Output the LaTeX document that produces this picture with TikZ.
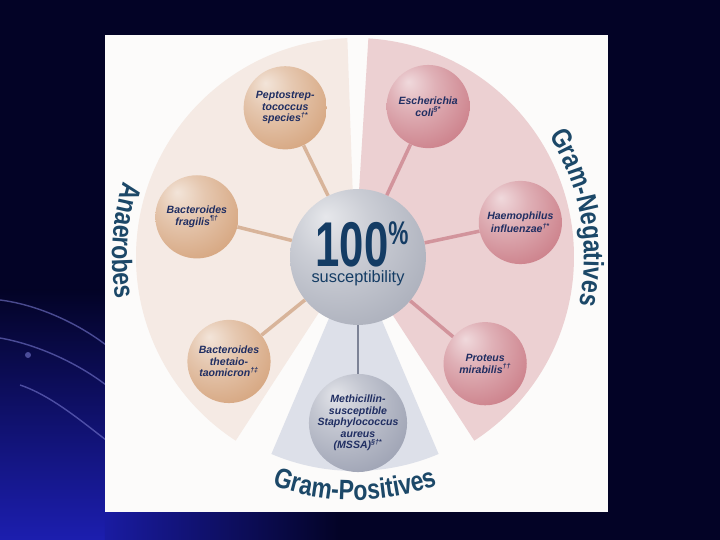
\documentclass[tikz,border=0pt]{standalone}
\usepackage{fontspec}
\setmainfont{Liberation Sans}
\newfontfamily\labelfont[FakeStretch=0.82]{Liberation Sans}
\newfontfamily\hubfont[FakeStretch=0.69]{Liberation Sans}
\usetikzlibrary{decorations.text}

\definecolor{bgnavy}{RGB}{3,3,38}
\definecolor{swooshblue}{RGB}{28,30,175}
\definecolor{panelwhite}{RGB}{252,251,250}
\definecolor{anaeroFill}{RGB}{245,234,228}
\definecolor{negFill}{RGB}{236,208,210}
\definecolor{posFill}{RGB}{221,224,233}
\definecolor{anaeroBall}{RGB}{214,166,128}
\definecolor{negBall}{RGB}{204,128,138}
\definecolor{posBall}{RGB}{158,163,180}
\definecolor{hubBall}{RGB}{172,176,188}
\definecolor{anaeroLine}{RGB}{216,180,154}
\definecolor{negLine}{RGB}{210,148,156}
\definecolor{posLine}{RGB}{125,131,150}
\definecolor{inkNavy}{RGB}{32,46,98}
\definecolor{titleBlue}{RGB}{28,72,104}
\definecolor{hubBlue}{RGB}{20,60,100}

% sphere look, colour taken from sph
\pgfdeclareradialshading[sph]{sphere}{\pgfpoint{-12bp}{15bp}}{%
  color(0bp)=(sph!30!white); color(14bp)=(sph!62!white);
  color(36bp)=(sph); color(50bp)=(sph!86!black); color(70bp)=(sph!86!black)}

\begin{document}
\begin{tikzpicture}[x=0.03cm, y=0.03cm,
    sphere/.style={circle, inner sep=0pt, minimum size=71pt, shade, shading=sphere,
      /utils/exec={\colorlet{sph}{#1}}, text=inkNavy, align=center,
      font=\bfseries\itshape\fontsize{9}{9.8}\selectfont},
    hubball/.style={circle, inner sep=0pt, minimum size=116pt, shade, shading=sphere,
      /utils/exec={\colorlet{sph}{hubBall}}},
    spoke/.style={draw=#1, line width=3pt},
    arclabel/.style={decorate, decoration={text along path, text align=center,
      text color=titleBlue, text={|\labelfont\bfseries\fontsize{24}{24}\selectfont|#1}}},
    streak/.style={draw=swooshblue!60!white, line width=1.2pt, opacity=.6}]

  \useasboundingbox (-358,-283) rectangle (362,257);
  \fill[bgnavy] (-358,-283) rectangle (362,257);

  % swoosh of the slide
  \shade[top color=bgnavy, bottom color=swooshblue] (-358,-33) rectangle (-252,-283);
  \shade[left color=swooshblue!90!bgnavy, right color=bgnavy] (-253,-254) rectangle (-18,-283);
  \draw[streak] (-358,-43) .. controls (-318,-48) and (-278,-68) .. (-252,-88);
  \draw[streak] (-358,-81) .. controls (-318,-88) and (-278,-108) .. (-252,-128);
  \draw[streak] (-338,-128) .. controls (-308,-138) and (-278,-163) .. (-252,-183);
  \fill[swooshblue!60!white, opacity=.6] (-330,-98) circle (3);

  % panel
  \fill[panelwhite] (-253,-255) rectangle (250,222);

  % the three groups
  \begin{scope}[shift={(-3,0)}]
    \fill[anaeroFill] (0,0) -- (92:219) arc[start angle=92, end angle=237, radius=219] -- cycle;
    \fill[negFill] (0,0) -- (86.5:219) arc[start angle=86.5, end angle=-57, radius=219] -- cycle;
    \fill[posFill] (0,0) -- (247:214) arc[start angle=247, end angle=293, radius=214] -- cycle;

    \path[arclabel=Anaerobes] (130:243) arc[start angle=130, end angle=222, radius=243];
    \path[arclabel=Gram-Negatives] (60:229) arc[start angle=60, end angle=-40, radius=229];
    \path[arclabel=Gram-Positives] (220:243) arc[start angle=220, end angle=320, radius=243];
  \end{scope}

  \node[hubball] (hub) at (0,0) {};

  \node[sphere=anaeroBall] (pepto) at (116:166) {Peptostrep-\\tococcus\\species\textsuperscript{†*}};
  \node[sphere=anaeroBall] (bfrag) at (166:166) {Bacteroides\\fragilis\textsuperscript{¶†}};
  \node[sphere=anaeroBall] (btheta) at (219:166) {Bacteroides\\thetaio-\\taomicron\textsuperscript{†‡}};
  \node[sphere=negBall] (ecoli) at (65:166) {Escherichia\\coli\textsuperscript{§*}};
  \node[sphere=negBall] (haemo) at (12:166) {Haemophilus\\influenzae\textsuperscript{†*}};
  \node[sphere=negBall] (proteus) at (-40:166) {Proteus\\mirabilis\textsuperscript{††}};
  \node[sphere=posBall] (mssa) at (270:166) {Methicillin-\\susceptible\\Staphylococcus\\aureus\\(MSSA)\textsuperscript{§†*}};

  \draw[spoke=anaeroLine] (hub) -- (pepto);
  \draw[spoke=anaeroLine] (hub) -- (bfrag);
  \draw[spoke=anaeroLine] (hub) -- (btheta);
  \draw[spoke=negLine] (hub) -- (ecoli);
  \draw[spoke=negLine] (hub) -- (haemo);
  \draw[spoke=negLine] (hub) -- (proteus);
  \draw[spoke=posLine, line width=2pt] (hub) -- (mssa);

  \node[anchor=base, inner sep=0pt, text=hubBlue, font=\hubfont\bfseries\fontsize{54}{54}\selectfont]
    (hubnum) at ([xshift=3.4pt, yshift=-7.8pt]hub.center)
    {100\raisebox{18.5pt}{\fontsize{28}{28}\selectfont\%}};
  \node[anchor=base, inner sep=0pt, text=hubBlue, font=\fontsize{14}{14}\selectfont]
    (hubsub) at ([yshift=-21.5pt]hub.center) {susceptibility};
\end{tikzpicture}
\end{document}
